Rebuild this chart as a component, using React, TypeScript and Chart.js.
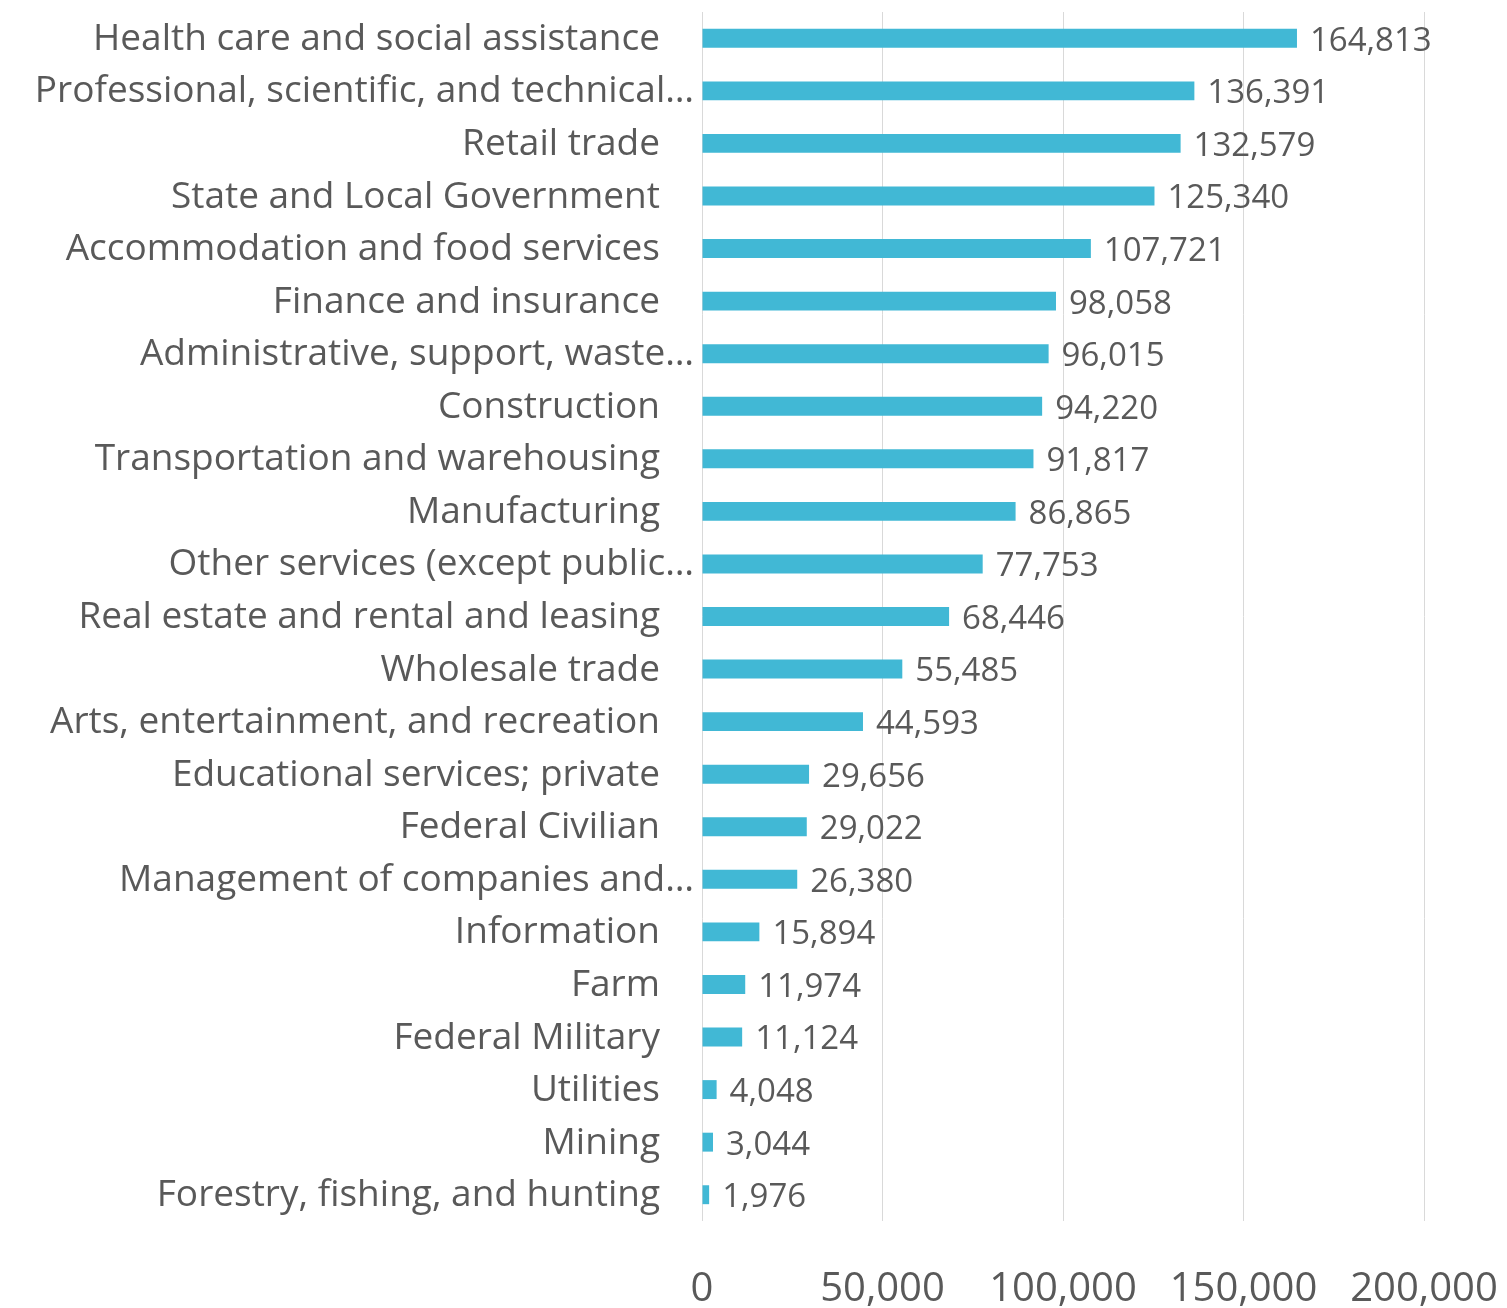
import React, { useEffect, useRef } from "react";
import { Chart, registerables } from "chart.js";

Chart.register(...registerables);

const categories = [
  "Health care and social assistance",
  "Professional, scientific, and technical…",
  "Retail trade",
  "State and Local Government",
  "Accommodation and food services",
  "Finance and insurance",
  "Administrative, support, waste…",
  "Construction",
  "Transportation and warehousing",
  "Manufacturing",
  "Other services (except public…",
  "Real estate and rental and leasing",
  "Wholesale trade",
  "Arts, entertainment, and recreation",
  "Educational services; private",
  "Federal Civilian",
  "Management of companies and…",
  "Information",
  "Farm",
  "Federal Military",
  "Utilities",
  "Mining",
  "Forestry, fishing, and hunting",
];

const values = [
  164813, 136391, 132579, 125340, 107721, 98058, 96015, 94220, 91817, 86865,
  77753, 68446, 55485, 44593, 29656, 29022, 26380, 15894, 11974, 11124, 4048,
  3044, 1976,
];

const xTicks = [0, 50000, 100000, 150000, 200000];

const FONT = "'Open Sans', 'Noto Sans', sans-serif";
const TEXT = "#595959";

const labelPlugin = {
  id: "customLabels",
  afterDatasetsDraw(chart: any) {
    const ctx = chart.ctx;
    const yScale = chart.scales.y;
    const meta = chart.getDatasetMeta(0);
    ctx.save();
    ctx.fillStyle = TEXT;
    ctx.textBaseline = "middle";
    // category labels
    ctx.font = `37px ${FONT}`;
    ctx.textAlign = "right";
    categories.forEach((c, i) => {
      const y = yScale.getPixelForValue(i) + 1;
      const x = c.endsWith("…") ? 694 : 660;
      ctx.fillText(c, x, y);
    });
    // data labels
    ctx.font = `33px ${FONT}`;
    ctx.textAlign = "left";
    meta.data.forEach((bar: any, i: number) => {
      ctx.fillText(values[i].toLocaleString("en-US"), bar.x + 13, bar.y + 3);
    });
    ctx.restore();
  },
};

export default function App() {
  const ref = useRef<HTMLCanvasElement>(null);
  useEffect(() => {
    if (!ref.current) return;
    const chart = new Chart(ref.current, {
      type: "bar",
      data: {
        labels: categories,
        datasets: [
          {
            data: values,
            backgroundColor: "#41B8D5",
            borderWidth: 0,
            barPercentage: 0.36,
            categoryPercentage: 1,
          },
        ],
      },
      options: {
        indexAxis: "y",
        animation: false,
        responsive: false,
        maintainAspectRatio: false,
        layout: { padding: { top: 12, right: 0, left: 0, bottom: 0 } },
        plugins: { legend: { display: false }, tooltip: { enabled: false } },
        scales: {
          x: {
            min: 0,
            max: 200000,
            afterBuildTicks: (scale: any) => {
              scale.ticks = xTicks.map((v) => ({ value: v }));
            },
            afterFit: (scale: any) => {
              scale.height = 87;
              scale.paddingRight = 83;
            },
            ticks: {
              color: TEXT,
              font: { family: FONT, size: 40 },
              padding: 45,
              callback: (v: any) => Number(v).toLocaleString("en-US"),
              maxRotation: 0,
            },
            grid: { color: "#d9d9d9", lineWidth: 1, drawTicks: false },
            border: { display: false },
          },
          y: {
            ticks: { display: false },
            afterFit: (scale: any) => {
              scale.width = 702;
            },
            grid: { display: false },
            border: { display: false },
          },
        },
      },
      plugins: [labelPlugin],
    });
    return () => chart.destroy();
  }, []);
  return (
    <div style={{ position: "fixed", left: 0, top: 0, width: 1507, height: 1308, background: "#fff" }}>
      <canvas ref={ref} width={1507} height={1308} />
    </div>
  );
}
